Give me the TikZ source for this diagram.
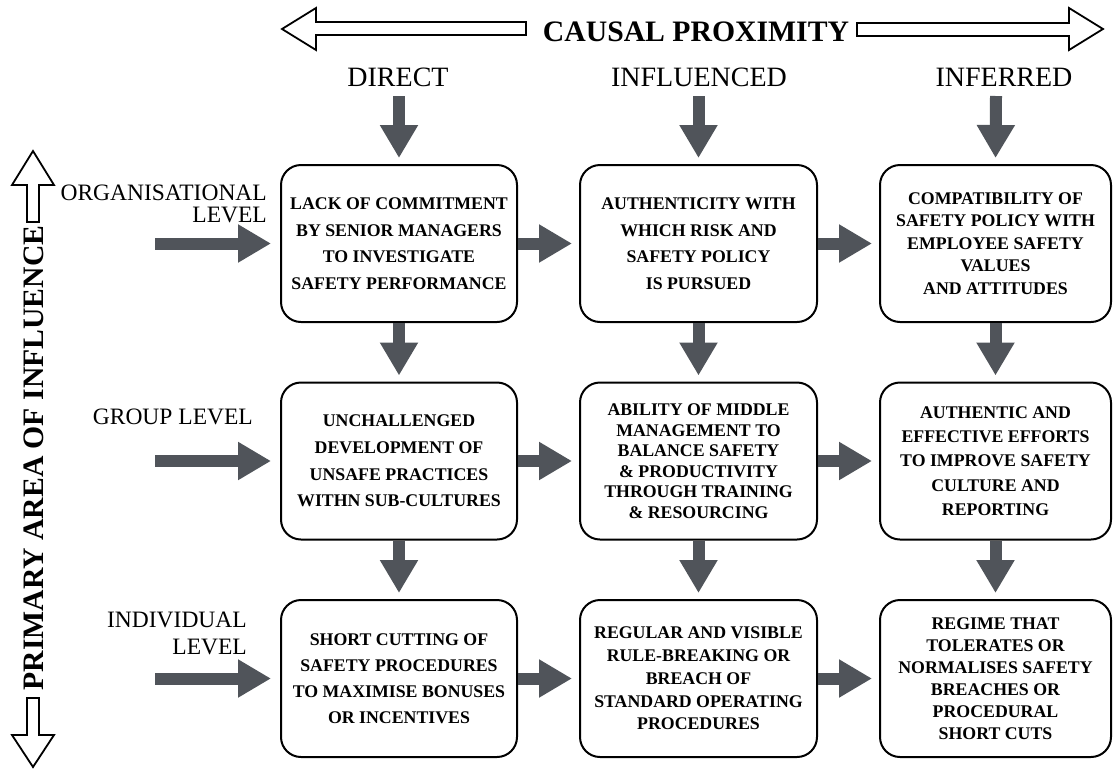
\documentclass[tikz,border=0pt]{standalone}
\usepackage{fontspec}
\setmainfont{Liberation Serif}
\usetikzlibrary{arrows.meta}
\definecolor{flowgrey}{RGB}{80,84,90}
\begin{document}
\begin{tikzpicture}[x=1pt,y=-1pt,
  cbox/.style={draw, line width=2pt, rounded corners=20pt, minimum height=157pt,
    inner sep=0pt, align=center},
  colA/.style={minimum width=236pt},
  colB/.style={minimum width=237pt},
  colC/.style={minimum width=231pt},
  lead/.style={font=\fontsize{17.8pt}{#1}\selectfont\bfseries},
  flow/.style={draw=flowgrey, line width=12pt, -{Triangle[width=36pt,length=33pt]}},
  hollow/.style={draw, line width=1.8pt, fill=white, line join=miter},
  toplabel/.style={font=\fontsize{28pt}{32pt}\selectfont, inner sep=0pt, anchor=base},
  sidelabel/.style={inner sep=0pt, align=right, anchor=north east},
  axistitle/.style={font=\fontsize{29.7pt}{34pt}\selectfont\bfseries, inner sep=0pt}
]
\useasboundingbox (0,0) rectangle (1113,769);

% causal proximity axis
\node[axistitle, anchor=base] (cp) at (696,41) {CAUSAL PROXIMITY};
\draw[hollow] (526,22) -- (316,22) -- (316,8) -- (282,29) -- (316,50) -- (316,35) -- (526,35) -- cycle;
\draw[hollow] (857,23) -- (1069,23) -- (1069,8) -- (1103,29) -- (1069,50) -- (1069,36) -- (857,36) -- cycle;

% primary area of influence axis
\node[axistitle, rotate=90] (pa) at (34,458) {PRIMARY AREA OF INFLUENCE};
\draw[hollow] (27,222) -- (27,185) -- (12,185) -- (33,151) -- (54,185) -- (39,185) -- (39,222) -- cycle;
\draw[hollow] (27,698) -- (27,735) -- (12,735) -- (33,767) -- (54,735) -- (39,735) -- (39,698) -- cycle;

% column headings
\node[toplabel] (hD) at (398,86) {DIRECT};
\node[toplabel] (hI) at (699,86) {INFLUENCED};
\node[toplabel] (hF) at (1004,86) {INFERRED};

% row headings
\node[sidelabel, font=\fontsize{23.5pt}{22pt}\selectfont] (rO) at (267,184.5) {ORGANISATIONAL\\LEVEL};
\node[sidelabel, font=\fontsize{23.5pt}{27pt}\selectfont] (rG) at (253,409) {GROUP LEVEL};
\node[sidelabel, font=\fontsize{23.5pt}{27pt}\selectfont] (rI) at (247,611.5) {INDIVIDUAL\\LEVEL};

% boxes
\node[cbox, colA, lead=26.5pt] (b11) at (399,243.5) {LACK OF COMMITMENT\\BY SENIOR MANAGERS\\TO INVESTIGATE\\SAFETY PERFORMANCE};
\node[cbox, colB, lead=26.5pt] (b12) at (698.5,243.5) {AUTHENTICITY WITH\\WHICH RISK AND\\SAFETY POLICY\\IS PURSUED};
\node[cbox, colC, lead=22.4pt] (b13) at (995.5,243.5) {COMPATIBILITY OF\\SAFETY POLICY WITH\\EMPLOYEE SAFETY\\VALUES\\AND ATTITUDES};

\node[cbox, colA, lead=26.7pt] (b21) at (399,461) {UNCHALLENGED\\DEVELOPMENT OF\\UNSAFE PRACTICES\\WITHN SUB-CULTURES};
\node[cbox, colB, lead=20.5pt] (b22) at (698.5,461) {ABILITY OF MIDDLE\\MANAGEMENT TO\\BALANCE SAFETY\\\& PRODUCTIVITY\\THROUGH TRAINING\\\& RESOURCING};
\node[cbox, colC, lead=24.3pt] (b23) at (995.5,461) {AUTHENTIC AND\\EFFECTIVE EFFORTS\\TO IMPROVE SAFETY\\CULTURE AND\\REPORTING};

\node[cbox, colA, lead=26pt] (b31) at (399,678.5) {SHORT CUTTING OF\\SAFETY PROCEDURES\\TO MAXIMISE BONUSES\\OR INCENTIVES};
\node[cbox, colB, lead=22.7pt] (b32) at (698.5,678.5) {REGULAR AND VISIBLE\\RULE-BREAKING OR\\BREACH OF\\STANDARD OPERATING\\PROCEDURES};
\node[cbox, colC, lead=22pt] (b33) at (995.5,678.5) {REGIME THAT\\TOLERATES OR\\NORMALISES SAFETY\\BREACHES OR\\PROCEDURAL\\SHORT CUTS};

% free ends of the entry arrows
\coordinate (tA) at (399,96);
\coordinate (tB) at (698.5,96);
\coordinate (tC) at (996,96);
\coordinate (lO) at (155,243.5);
\coordinate (lG) at (155,461);
\coordinate (lI) at (155,678.5);

% entry arrows
\draw[flow, shorten >=6pt] (tA) -- (b11.north);
\draw[flow, shorten >=6pt] (tB) -- (b12.north);
\draw[flow, shorten >=6pt] (tC) -- (b13.north);
\draw[flow, shorten >=9pt] (lO) -- (b11.west);
\draw[flow, shorten >=9pt] (lG) -- (b21.west);
\draw[flow, shorten >=9pt] (lI) -- (b31.west);

% arrows across the grid
\foreach \r in {1,2,3}{
  \draw[flow, shorten >=7pt] (b\r1.east) -- (b\r2.west);
  \draw[flow, shorten >=7pt] (b\r2.east) -- (b\r3.west);
}
\foreach \c in {1,2,3}{
  \draw[flow, shorten >=6pt] (b1\c.south) -- (b2\c.north);
  \draw[flow, shorten >=6pt] (b2\c.south) -- (b3\c.north);
}
\end{tikzpicture}
\end{document}
